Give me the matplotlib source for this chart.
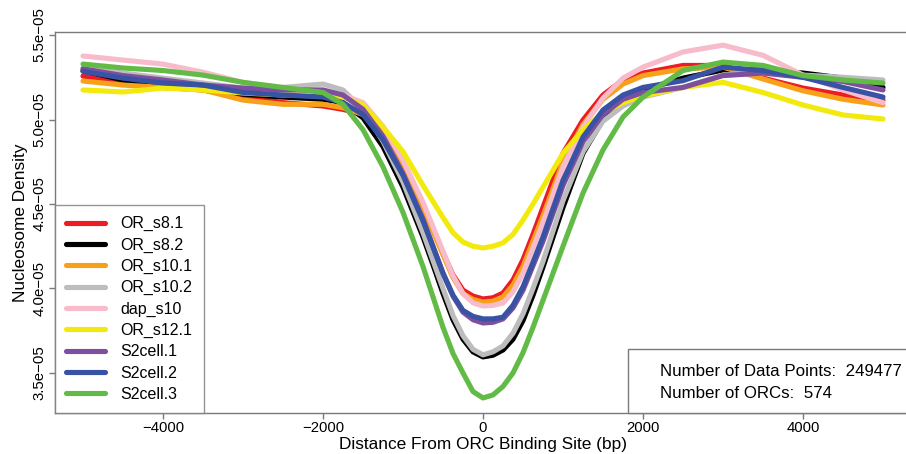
import matplotlib
matplotlib.use("Agg")
import matplotlib.pyplot as plt
from matplotlib.ticker import FixedLocator

plt.rcParams['font.family'] = ['Liberation Sans', 'DejaVu Sans']

# positions (bp)
pos = [-5000, -4500, -4000, -3500, -3000, -2500, -2000, -1750, -1500, -1250,
       -1000, -750, -625, -500, -375, -250, -125, 0, 125, 250, 375, 500, 625, 750,
       1000, 1250, 1500, 1750, 2000, 2500, 3000, 3500, 4000, 4500, 5000]

# nucleosome density values (x 1e-5)
OR_s8_1 = [5.257, 5.216, 5.19, 5.175, 5.133, 5.10, 5.08, 5.06, 5.03, 4.92,
           4.72, 4.48, 4.345, 4.21, 4.08, 3.99, 3.955, 3.938, 3.945, 3.973, 4.05, 4.17, 4.32, 4.48,
           4.80, 4.997, 5.145, 5.234, 5.275, 5.32, 5.32, 5.245, 5.186, 5.145, 5.115]
OR_s8_2 = [5.289, 5.234, 5.204, 5.186, 5.15, 5.133, 5.12, 5.10, 5.01, 4.84,
           4.60, 4.305, 4.14, 3.97, 3.815, 3.70, 3.625, 3.595, 3.605, 3.636, 3.70, 3.81, 3.96, 4.127,
           4.48, 4.80, 5.0, 5.115, 5.175, 5.245, 5.293, 5.293, 5.275, 5.245, 5.19]
OR_s10_1 = [5.228, 5.204, 5.19, 5.175, 5.115, 5.09, 5.09, 5.07, 5.03, 4.92,
            4.72, 4.48, 4.34, 4.20, 4.065, 3.97, 3.935, 3.92, 3.925, 3.95, 4.02, 4.13, 4.28, 4.43,
            4.75, 4.97, 5.12, 5.21, 5.26, 5.30, 5.31, 5.24, 5.17, 5.12, 5.086]
OR_s10_2 = [5.305, 5.275, 5.245, 5.216, 5.186, 5.19, 5.21, 5.175, 5.06, 4.87,
            4.63, 4.33, 4.165, 4.00, 3.84, 3.72, 3.64, 3.607, 3.625, 3.66, 3.735, 3.85, 4.00, 4.16,
            4.52, 4.81, 4.99, 5.08, 5.133, 5.19, 5.263, 5.275, 5.263, 5.25, 5.234]
dap_s10 = [5.376, 5.352, 5.328, 5.28, 5.22, 5.186, 5.157, 5.145, 5.10, 4.96,
           4.76, 4.51, 4.365, 4.22, 4.075, 3.97, 3.915, 3.896, 3.90, 3.914, 3.98, 4.09, 4.24, 4.39,
           4.72, 4.956, 5.127, 5.245, 5.31, 5.40, 5.44, 5.38, 5.263, 5.175, 5.10]
OR_s12_1 = [5.175, 5.163, 5.186, 5.175, 5.157, 5.145, 5.145, 5.133, 5.086, 4.956,
            4.81, 4.61, 4.515, 4.42, 4.33, 4.275, 4.25, 4.24, 4.25, 4.27, 4.32, 4.405, 4.50, 4.60,
            4.80, 4.94, 5.04, 5.10, 5.14, 5.19, 5.22, 5.16, 5.086, 5.027, 5.003]
S2cell_1 = [5.30, 5.26, 5.234, 5.204, 5.186, 5.175, 5.175, 5.145, 5.06, 4.90,
            4.68, 4.41, 4.25, 4.09, 3.955, 3.86, 3.815, 3.796, 3.80, 3.82, 3.885, 3.99, 4.135, 4.28,
            4.61, 4.87, 5.03, 5.12, 5.16, 5.19, 5.26, 5.275, 5.25, 5.225, 5.175]
S2cell_2 = [5.285, 5.245, 5.216, 5.204, 5.16, 5.145, 5.133, 5.10, 5.03, 4.88,
            4.67, 4.40, 4.245, 4.09, 3.96, 3.87, 3.835, 3.82, 3.82, 3.83, 3.90, 4.01, 4.155, 4.305,
            4.64, 4.896, 5.056, 5.145, 5.19, 5.23, 5.31, 5.29, 5.25, 5.19, 5.133]
S2cell_3 = [5.328, 5.305, 5.29, 5.263, 5.22, 5.19, 5.16, 5.09, 4.94, 4.72,
            4.45, 4.13, 3.95, 3.77, 3.615, 3.50, 3.39, 3.352, 3.37, 3.42, 3.50, 3.62, 3.77, 3.93,
            4.25, 4.565, 4.82, 5.015, 5.133, 5.29, 5.34, 5.32, 5.26, 5.234, 5.216]

labels = ["OR_s8.1", "OR_s8.2", "OR_s10.1", "OR_s10.2", "dap_s10", "OR_s12.1",
          "S2cell.1", "S2cell.2", "S2cell.3"]
series = [OR_s8_1, OR_s8_2, OR_s10_1, OR_s10_2, dap_s10, OR_s12_1,
          S2cell_1, S2cell_2, S2cell_3]
colors = ["#EC1C24", "#000000", "#F7A11A", "#BDBDBD", "#F8BBCB", "#F2EA0D",
          "#7F4F9F", "#3953A4", "#62BB46"]

xticks = [-4000, -2000, 0, 2000, 4000]
xticklabels = ["\u22124000", "\u22122000", "0", "2000", "4000"]
yticks = [3.5, 4.0, 4.5, 5.0, 5.5]
yticklabels = ["3.5e\u221205", "4.0e\u221205", "4.5e\u221205", "5.0e\u221205", "5.5e\u221205"]

W, H = 906, 454
fig = plt.figure(figsize=(W / 100, H / 100), dpi=100)
L, R, T, B = 55, 911, 32, 413
ax = fig.add_axes([L / W, 1 - B / H, (R - L) / W, (B - T) / H])

for vals, col, lab in zip(series, colors, labels):
    ax.plot(pos, vals, color=col, lw=3.7, solid_capstyle='round',
            solid_joinstyle='round', label=lab)

ax.set_xlim(-5350, 5350)
ax.set_ylim(3.263, 5.518)

spine_col = "#7a7a7a"
for s in ax.spines.values():
    s.set_color(spine_col)
    s.set_linewidth(1.0)

ax.xaxis.set_major_locator(FixedLocator(xticks))
ax.set_xticklabels(xticklabels, fontsize=10.7)
ax.yaxis.set_major_locator(FixedLocator(yticks))
ax.set_yticklabels(yticklabels, fontsize=10.8, rotation=90, va='center')
ax.tick_params(axis='both', direction='out', length=4, width=1.0,
               color=spine_col, pad=2)

ax.set_xlabel("Distance From ORC Binding Site (bp)", fontsize=12.4, labelpad=1)
ax.set_ylabel("Nucleosome Density", fontsize=12.4, labelpad=3)

leg = ax.legend(loc='lower left', bbox_to_anchor=(0, 0), borderaxespad=0,
                fontsize=11.5, frameon=True, fancybox=False, handlelength=2.45,
                handletextpad=0.95, labelspacing=0.39, borderpad=0.7)
leg.get_frame().set_edgecolor(spine_col)
leg.get_frame().set_linewidth(1.0)
for ln in leg.get_lines():
    ln.set_linewidth(3.7)

# annotation box
x0 = (628 - L) / (R - L)
y1 = (B - 349) / (B - T)
ax.add_patch(plt.Rectangle((x0, 0), 1.2, y1, transform=ax.transAxes,
                           fill=True, facecolor='white', edgecolor=spine_col,
                           lw=1.0, clip_on=False, zorder=5))
tx = (660 - L) / (R - L)
ax.text(tx, (B - 372) / (B - T), "Number of Data Points:  249477", transform=ax.transAxes,
        fontsize=12.2, va='center', ha='left', zorder=6)
ax.text(tx, (B - 393) / (B - T), "Number of ORCs:  574", transform=ax.transAxes,
        fontsize=12.2, va='center', ha='left', zorder=6)

fig.savefig("out.png", dpi=100)
